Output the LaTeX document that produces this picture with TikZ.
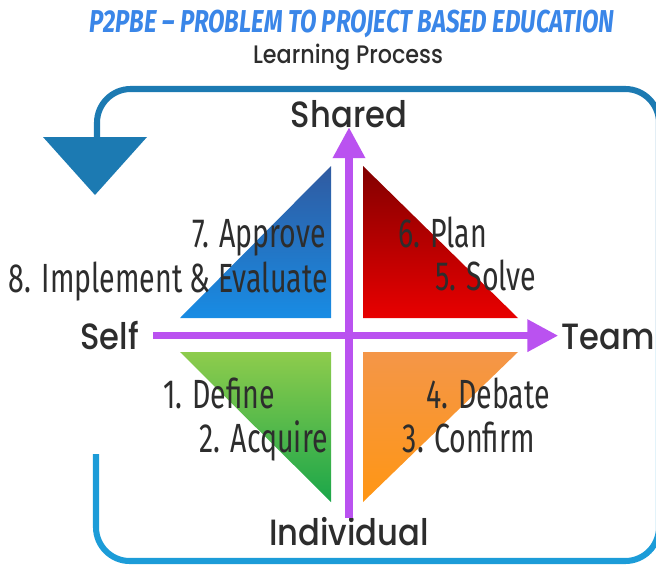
\documentclass[tikz,border=0pt]{standalone}
\usepackage{fontspec}
\usetikzlibrary{arrows.meta}
\newfontfamily\stepfont[FakeStretch=0.7]{Fira Sans}
\newfontfamily\titlefont[FakeStretch=0.76]{Fira Sans}
\newfontfamily\axisfont[FakeStretch=0.88]{Poppins Medium}
\definecolor{titleblue}{RGB}{58,134,232}
\definecolor{axispurple}{RGB}{186,82,240}
\definecolor{loopdark}{RGB}{28,122,178}
\definecolor{looplight}{RGB}{28,156,216}
\definecolor{inkgray}{RGB}{45,45,45}
\definecolor{blueTop}{RGB}{48,90,160}
\definecolor{blueBot}{RGB}{24,140,228}
\definecolor{redTop}{RGB}{130,0,0}
\definecolor{redBot}{RGB}{232,0,0}
\definecolor{greenTop}{RGB}{142,204,76}
\definecolor{greenBot}{RGB}{26,166,74}
\definecolor{orangeTop}{RGB}{244,150,72}
\definecolor{orangeBot}{RGB}{255,150,20}
\begin{document}
\begin{tikzpicture}[x=0.025cm, y=-0.025cm,
  steplabel/.style={font=\stepfont\fontsize{29}{32}\selectfont, text=inkgray, inner sep=0pt},
  axislabel/.style={font=\axisfont\fontsize{26}{28}\selectfont, text=inkgray, inner sep=0pt,
    text height=19pt, text depth=0pt},
  axisarrow/.style={axispurple, line width=5pt, -{Triangle[length=22pt,width=22pt]}},
  loopline/.style={line width=4.3pt, rounded corners=24pt}]
    \useasboundingbox (0,0) rectangle (656,565);
    % heading
    \node[font=\titlefont\bfseries\itshape\fontsize{22.5}{24}\selectfont, text=titleblue, anchor=base]
      (title) at (352,33) {P2PBE – PROBLEM TO PROJECT BASED EDUCATION};
    \node[font=\axisfont\fontsize{18}{20}\selectfont, text=inkgray, anchor=base]
      (subtitle) at (348,63) {Learning Process};
    % the cycle around the quadrants
    \draw[loopline, loopdark] (97,140) |- (659,89) -- (659,330);
    \draw[loopline, looplight] (659,330) |- (96,561) -- (96,454);
    \fill[loopdark] (43,137) -- (147,137) -- (95,195) -- cycle;
    % four quadrants
    \shade[top color=blueTop, bottom color=blueBot] (180,318) -- (331,318) -- (331,166) -- cycle;
    \shade[top color=redTop, bottom color=redBot] (363,166) -- (363,318) -- (518,318) -- cycle;
    \shade[top color=greenTop, bottom color=greenBot] (180,352) -- (331,352) -- (331,502) -- cycle;
    \shade[top color=orangeTop, bottom color=orangeBot] (363,352) -- (518,352) -- (363,502) -- cycle;
    % axes
    \node[axislabel, anchor=base] (shared) at (349,127) {Shared};
    \node[axislabel, anchor=base] (individual) at (349,545) {Individual};
    \node[axislabel, anchor=base west] (self) at (80,349) {Self};
    \node[axislabel, anchor=base west] (team) at (561,349) {Team};
    \draw[axisarrow, shorten <=10pt, shorten >=2pt] (self) -- (team);
    \draw[axisarrow] (individual) -- (shared);
    % steps
    \node[steplabel, anchor=base east] (approve) at (326,247) {7. Approve};
    \node[steplabel, anchor=base east] (implement) at (328,292) {8. Implement \& Evaluate};
    \node[steplabel, anchor=base west] (plan) at (398,247) {6. Plan};
    \node[steplabel, anchor=base west] (solve) at (435,290) {5. Solve};
    \node[steplabel, anchor=base west] (define) at (163,408) {1. Define};
    \node[steplabel, anchor=base east] (acquire) at (328,452) {2. Acquire};
    \node[steplabel, anchor=base east] (debate) at (550,408) {4. Debate};
    \node[steplabel, anchor=base east] (confirm) at (535,452) {3. Confirm};
\end{tikzpicture}
\end{document}
